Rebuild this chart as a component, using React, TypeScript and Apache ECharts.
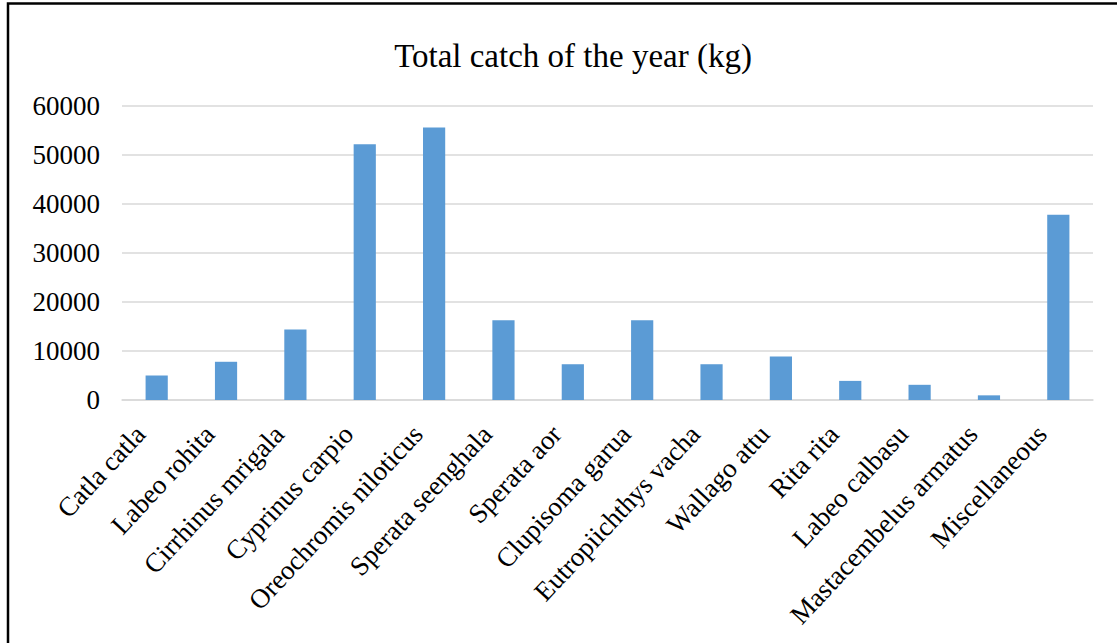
import React, { useEffect, useRef } from "react";
import * as echarts from "echarts";

const categories = [
  "Catla catla",
  "Labeo rohita",
  "Cirrhinus mrigala",
  "Cyprinus carpio",
  "Oreochromis niloticus",
  "Sperata seenghala",
  "Sperata aor",
  "Clupisoma garua",
  "Eutropiichthys vacha",
  "Wallago attu",
  "Rita rita",
  "Labeo calbasu",
  "Mastacembelus armatus",
  "Miscellaneous",
];

const catchKg = [5000, 7800, 14400, 52200, 55600, 16300, 7300, 16300, 7300, 8900, 3900, 3100, 950, 37800];

const yTicks = [0, 10000, 20000, 30000, 40000, 50000, 60000];

const titleText = "Total catch of the year (kg)";

const FONT = "'Liberation Serif', 'Times New Roman', serif";

export default function App() {
  const ref = useRef<HTMLDivElement>(null);

  useEffect(() => {
    if (!ref.current) return;
    const chart = echarts.init(ref.current, null, { renderer: "svg" });
    chart.setOption({
      animation: false,
      backgroundColor: "#ffffff",
      title: {
        text: titleText,
        left: 568,
        top: 34,
        textAlign: "center",
        textStyle: {
          fontFamily: FONT,
          fontSize: 33,
          fontWeight: "normal",
          color: "#000000",
        },
      },
      graphic: [
        {
          type: "rect",
          shape: { x: 8, y: 3.5, width: 1300, height: 900 },
          style: { fill: "none", stroke: "#000000", lineWidth: 2.5 },
          silent: true,
          z: 100,
        },
      ],
      grid: {
        left: 122,
        right: 24,
        top: 106,
        bottom: 243,
        containLabel: false,
      },
      xAxis: {
        type: "category",
        data: categories,
        axisTick: { show: false },
        axisLine: { show: true, lineStyle: { color: "#d9d9d9", width: 1.5 } },
        axisLabel: {
          interval: 0,
          rotate: 47,
          margin: 12,
          padding: [0, 24, 0, 0],
          fontFamily: FONT,
          fontSize: 27,
          color: "#000000",
        },
      },
      yAxis: {
        type: "value",
        min: yTicks[0],
        max: yTicks[yTicks.length - 1],
        interval: yTicks[1] - yTicks[0],
        axisLine: { show: false },
        axisTick: { show: false },
        splitLine: { show: true, lineStyle: { color: "#d9d9d9", width: 1.5 } },
        axisLabel: {
          margin: 22,
          fontFamily: FONT,
          fontSize: 27,
          color: "#000000",
          formatter: (v: number) => String(v),
        },
      },
      series: [
        {
          type: "bar",
          data: catchKg,
          barWidth: "32%",
          itemStyle: { color: "#5B9BD5" },
        },
      ],
    });
    return () => chart.dispose();
  }, []);

  return (
    <div
      ref={ref}
      style={{ position: "absolute", left: 0, top: 0, width: 1117, height: 643 }}
    />
  );
}
